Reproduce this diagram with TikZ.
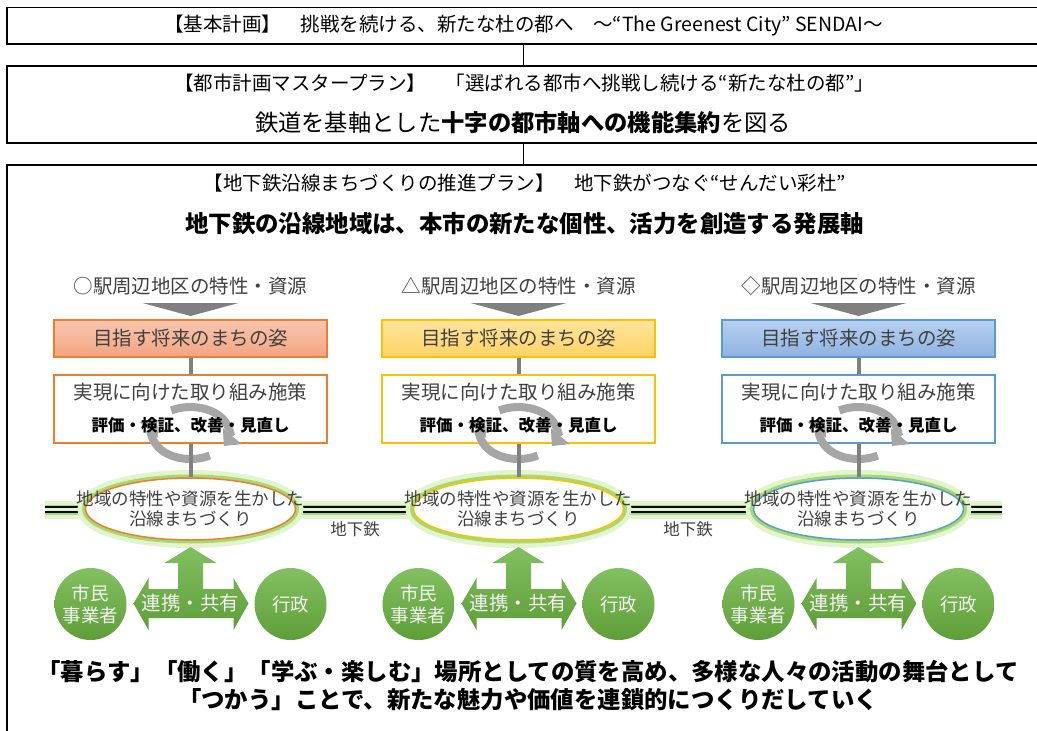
\documentclass[tikz,border=0pt]{standalone}
\usepackage{fontspec}
\setmainfont{Noto Sans CJK JP}
\usepackage{tikz}
\usetikzlibrary{arrows.meta,shapes.geometric}
\definecolor{TexteGris}{HTML}{404040}
\definecolor{GrisLien}{HTML}{808080}
\definecolor{GrisCycle}{HTML}{A6A6A6}
\definecolor{OrangeBord}{HTML}{ED7D31}
\definecolor{OrangeHaut}{HTML}{F8C6AE}
\definecolor{OrangeBas}{HTML}{F3A481}
\definecolor{JauneBord}{HTML}{FFC000}
\definecolor{JauneHaut}{HTML}{FFE49E}
\definecolor{JauneBas}{HTML}{FFD364}
\definecolor{BleuBord}{HTML}{5B9BD5}
\definecolor{BleuHaut}{HTML}{B7D0EF}
\definecolor{BleuBas}{HTML}{8FB2E2}
\definecolor{VertHaut}{HTML}{83C061}
\definecolor{VertBas}{HTML}{5E9E38}
\definecolor{HaloClair}{HTML}{E2F4CE}
\definecolor{HaloVert}{HTML}{A6DA6E}
\tikzset{
Cadre/.style={
 draw=black,
 fill=white,
 line width=1.1pt,
 minimum width=1033pt,
 inner sep=0pt
 },
Lien/.style={
 draw=black,
 line width=1.1pt
 },
Titre/.style={
 font=\fontsize{19.5}{22}\selectfont
 },
GrosTitre/.style={
 font=\bfseries\fontsize{23.4}{28}\selectfont
 },
Rubrique/.style={
 text=TexteGris,
 font=\fontsize{19.5}{22}\selectfont
 },
BoiteBut/.style={
 draw=#1,
 line width=1.2pt,
 minimum width=273pt,
 minimum height=37pt,
 inner sep=0pt
 },
BoiteAction/.style={
 draw=#1,
 fill=white,
 line width=1.2pt,
 minimum width=273pt,
 minimum height=68pt,
 inner sep=0pt
 },
TraitGris/.style={
 draw=GrisLien,
 line width=4pt
 },
FlecheCycle/.style={
 draw=GrisCycle,
 line width=8pt,
 -{Triangle[length=13pt,width=24pt]}
 },
EllipseLigne/.style={
 ellipse,
 draw=#1,
 fill=white,
 line width=1.5pt,
 minimum width=210pt,
 minimum height=62pt,
 inner sep=0pt
 },
Halo/.style={
 draw=HaloClair,
 line width=#1
 },
HaloFort/.style={
 draw=HaloVert,
 line width=#1
 },
Rail/.style={
 draw=black,
 line width=2.4pt,
 double=HaloClair,
 double distance=2.4pt
 },
Acteur/.style={
 circle,
 minimum size=72pt,
 inner sep=0pt,
 top color=VertHaut,
 bottom color=VertBas,
 text=white!95!black,
 align=center,
 font=\fontsize{18.5}{22}\selectfont
 },
FlecheVerte/.style={
 top color=VertHaut,
 bottom color=VertBas
 }
}

\begin{document}
\begin{tikzpicture}[x=1pt,y=1pt]
\useasboundingbox (0,0) rectangle (1037,-731);
\clip (0,0) rectangle (1037,-731);
% plans
\node[Cadre,minimum height=36.5pt,Titre] (plan1) at (523.5,-25.75) {【基本計画】　挑戦を続ける、新たな杜の都へ　～“The Greenest City” SENDAI～};
\node[Cadre,minimum height=77pt] (plan2) at (523.5,-104.5) {};
\node[Cadre,minimum height=595pt] (plan3) at (523.5,-462.5) {};
\draw[Lien] (plan1.south) -- (plan2.north);
\draw[Lien] (plan2.south) -- (plan3.north);
\node[Titre] (plan2a) at (524,-83) {【都市計画マスタープラン】　「選ばれる都市へ挑戦し続ける“新たな杜の都”」};
\node[font=\fontsize{23.3}{26}\selectfont] (plan2b) at (523,-123) {鉄道を基軸とした{\bfseries 十字の都市軸への機能集約}を図る};
\node[Titre] (plan3a) at (525,-183) {【地下鉄沿線まちづくりの推進プラン】　地下鉄がつなぐ“せんだい彩杜”};
\node[GrosTitre] (plan3b) at (524.5,-224) {地下鉄の沿線地域は、本市の新たな個性、活力を創造する発展軸};
% metro
\coordinate (metroO) at (45,-509.5);
\coordinate (metroE) at (1002,-509.5);
\draw[Halo=18pt] (metroO) -- (metroE);
\draw[HaloFort=10pt] (metroO) -- (metroE);
\draw[Rail] (metroO) -- (metroE);
\node[Rubrique,font=\fontsize{16.5}{20}\selectfont] (metro1) at (355,-529) {地下鉄};
\node[Rubrique,font=\fontsize{16.5}{20}\selectfont] (metro2) at (688,-529) {地下鉄};
% stations
\foreach \c/\x/\coul/\sym in {1/190.5/Orange/○,2/518.5/Jaune/△,3/858.5/Bleu/◇}{
 \node[Rubrique] (rub\c) at (\x,-286) {\sym 駅周辺地区の特性・資源};
 \fill[GrisLien] (\x-48,-303) -- (\x+48,-303) -- (\x,-316) -- cycle;
 \node[BoiteBut=\coul Bord,top color=\coul Haut,bottom color=\coul Bas,Rubrique] (but\c) at (\x,-338.5) {目指す将来のまちの姿};
 \node[BoiteAction=\coul Bord] (act\c) at (\x,-409) {};
 \draw[TraitGris] (but\c.south) -- (act\c.north);
 \draw[FlecheCycle] ([shift={(120:38.5 and 26)}]\x,-433) arc[start angle=120,end angle=-30,x radius=38.5,y radius=26];
 \draw[FlecheCycle] ([shift={(-60:38.5 and 26)}]\x,-433) arc[start angle=-60,end angle=-210,x radius=38.5,y radius=26];
 \node[Rubrique] (actt\c) at (\x,-392) {実現に向けた取り組み施策};
 \node[font=\bfseries\fontsize{16.5}{20}\selectfont] (eval\c) at (\x,-425) {評価・検証、改善・見直し};
 \draw[Halo=16pt] (\x,-509) ellipse [x radius=105,y radius=31];
 \draw[HaloFort=7pt] (\x,-509) ellipse [x radius=105,y radius=31];
 \node[EllipseLigne=\coul Bord] (ell\c) at (\x,-509) {};
 \draw[TraitGris] (act\c.south) -- (ell\c.north);
 \node[text=TexteGris,align=center,font=\fontsize{17.5}{19.5}\selectfont] (ellt\c) at (\x,-509) {地域の特性や資源を生かした\\沿線まちづくり};
 \shade[FlecheVerte] (\x,-547) -- (\x+26,-563) -- (\x+12.5,-563) -- (\x+12.5,-589) -- (\x+43,-589) -- (\x+43,-578) -- (\x+58,-603.5) -- (\x+43,-630) -- (\x+43,-618) -- (\x-42,-618) -- (\x-42,-630) -- (\x-57,-603.5) -- (\x-42,-578) -- (\x-42,-589) -- (\x-12.5,-589) -- (\x-12.5,-563) -- (\x-26,-563) -- cycle;
 \node[text=white!95!black,font=\fontsize{19.5}{22}\selectfont] (coop\c) at (\x,-603.5) {連携・共有};
 \node[Acteur] (cit\c) at (\x-100,-604) {市民\\事業者};
 \node[Acteur] (adm\c) at (\x+100,-604) {行政};
}
% conclusion
\node[GrosTitre,align=center] (concl) at (528,-686) {「暮らす」「働く」「学ぶ・楽しむ」場所としての質を高め、多様な人々の活動の舞台として\\「つかう」ことで、新たな魅力や価値を連鎖的につくりだしていく};
\end{tikzpicture}
\end{document}
